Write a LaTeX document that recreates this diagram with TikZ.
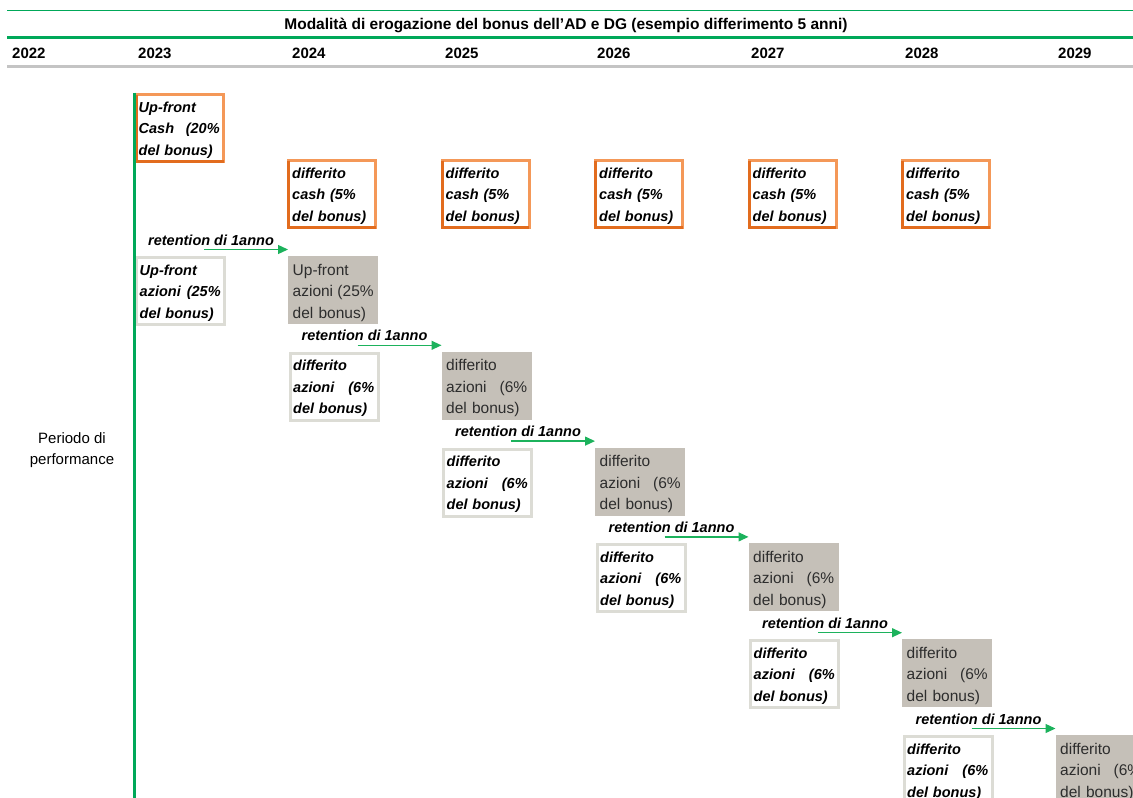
\documentclass[tikz,border=0pt]{standalone}
\usepackage{fontspec}
\setmainfont{Liberation Sans}
\usetikzlibrary{arrows.meta}
\definecolor{grn}{RGB}{0,168,89}
\definecolor{grnA}{RGB}{28,178,92}
\definecolor{orL}{RGB}{244,152,88}
\definecolor{orD}{RGB}{226,108,30}
\definecolor{gfill}{RGB}{197,192,184}
\definecolor{wbord}{RGB}{220,220,213}
\definecolor{hline}{RGB}{196,196,196}
\definecolor{gtext}{RGB}{45,45,45}
\tikzset{
  box/.style={rectangle, minimum width=87pt, minimum height=67pt, inner sep=0pt, outer sep=0pt, anchor=north west, line width=3pt},
  cashbox/.style={box, draw=orL, fill=white},
  wbox/.style={box, minimum width=88pt, draw=wbord, fill=white},
  gbox/.style={box, minimum width=90pt, minimum height=68pt, fill=gfill},
  btxt/.style={anchor=base west, align=left, text width=81pt, inner sep=0pt, font=\fontsize{14.5}{21.5}\selectfont\bfseries\itshape},
  gtxt/.style={anchor=base west, align=left, text width=81pt, inner sep=0pt, text=gtext, font=\fontsize{15.5}{21.5}\selectfont},
  rtxt/.style={anchor=base west, inner sep=0pt, font=\fontsize{14.5}{16}\selectfont\bfseries\itshape},
  yeartxt/.style={anchor=base west, inner sep=0pt, font=\fontsize{15}{17}\selectfont\bfseries},
  titletxt/.style={anchor=base, inner sep=0pt, font=\fontsize{15.5}{17}\selectfont\bfseries},
  perf/.style={anchor=base, align=center, inner sep=0pt, font=\fontsize{15}{21.5}\selectfont},
  arr/.style={grnA, line width=1.3pt, -{Triangle[length=10pt,width=9pt]}},
}
\begin{document}
\begin{tikzpicture}[x=1pt,y=-1pt]
\useasboundingbox (0,0) rectangle (1133,798);
\clip (0,0) rectangle (1133,798);
% header
\draw[grn, line width=1.3pt] (7,10.7) -- (1133,10.7);
\node[titletxt] (title) at (566,29.5) {Modalità di erogazione del bonus dell'AD e DG (esempio differimento 5 anni)};
\draw[grn, line width=3.3pt] (7,37.7) -- (1133,37.7);
\foreach \yr/\xp in {2022/12,2023/138,2024/292,2025/445,2026/597,2027/751,2028/905,2029/1058}
  \node[yeartxt] (y\yr) at (\xp,58) {\yr};
\draw[hline, line width=3.5pt] (7,66.3) -- (1133,66.3);
% performance label
\node[perf] (perf) at (72,464.5) {Periodo di\\performance};
% up-front cash
\node[cashbox] (uc) at (136.5,94.5) {};
\draw[orD, line width=3pt] (uc.north west) -- (uc.south west) -- (uc.south east);
\node[btxt] (uct) at (138.5,112) {Up-front\\Cash\hfill(20\%\\del bonus)};
% deferred cash
\foreach \k in {0,...,4} {
  \node[cashbox] (dc\k) at (288.5+153.5*\k,160.5) {};
  \draw[orD, line width=3pt] (dc\k.north west) -- (dc\k.south west) -- (dc\k.south east);
  \node[btxt] (dct\k) at (292+153.5*\k,178) {differito\\cash (5\%\\del bonus)};
}
% diagonal rows
\foreach \k in {0,...,5} {
  \ifnum\k=0 \def\wfirst{Up-front}\def\wpct{25}\else\def\wfirst{differito}\def\wpct{6}\fi
  % retention
  \node[rtxt] (r\k) at (148+153.5*\k,245+95.8*\k) {retention di 1anno};
  \coordinate (s\k) at (204+153.5*\k,249.5+95.8*\k);
  \coordinate (e\k) at (288+153.5*\k,249.5+95.8*\k);
  \draw[arr] (s\k) -- (e\k);
  % white box
  \node[wbox] (w\k) at (136.5+153.5*\k,257.5+95.8*\k) {};
  \node[btxt] (wt\k) at (139.5+153.5*\k,275+95.8*\k) {\wfirst\\azioni\hfill(\wpct\%\\del bonus)};
  % gray box
  \node[gbox] (g\k) at (288+153.5*\k,256+95.8*\k) {};
  \node[gtxt] (gt\k) at (292.5+153.5*\k,275+95.8*\k) {\wfirst\\azioni\hfill(\wpct\%\\del bonus)};
}
% vertical green line
\draw[grn, line width=3pt] (134.3,92.7) -- (134.3,798);
\end{tikzpicture}
\end{document}
